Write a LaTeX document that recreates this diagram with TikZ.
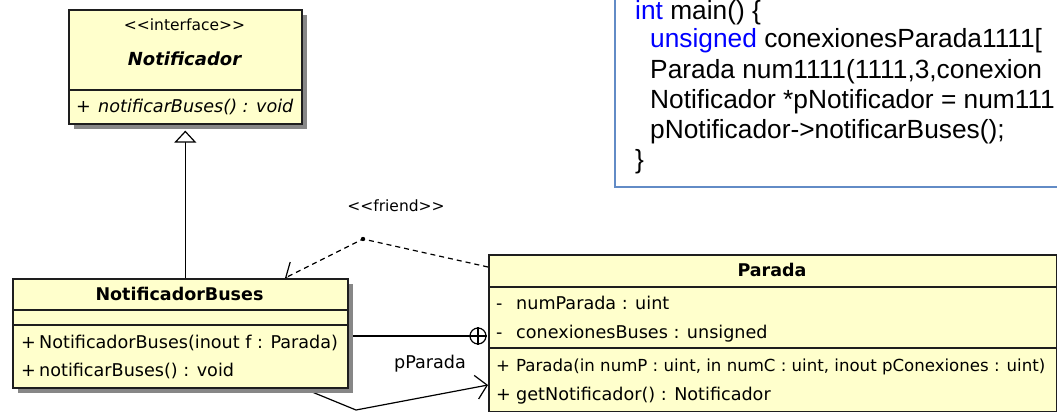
\documentclass[tikz,border=0pt]{standalone}
\usepackage{fontspec}
\setmainfont{DejaVu Sans}
\newfontfamily\codefont{Liberation Sans}
\usetikzlibrary{arrows.meta,shadows,backgrounds}
\definecolor{umlfill}{RGB}{255,255,204}
\definecolor{umlborder}{RGB}{30,30,30}
\definecolor{shadowgray}{RGB}{135,135,135}
\definecolor{codeborder}{RGB}{98,139,198}
\definecolor{kwblue}{RGB}{0,0,255}
\begin{document}
\begin{tikzpicture}[x=1pt,y=-1pt,
  umlbox/.style={draw=umlborder, fill=umlfill, line width=1.6pt, inner sep=0pt, anchor=north west,
    drop shadow={shadow xshift=5pt, shadow yshift=-5pt, fill=shadowgray, opacity=1}},
  umlsep/.style={draw=umlborder, line width=1.4pt},
  member/.style={anchor=base west, inner sep=0pt, font=\fontsize{17.6}{20}\selectfont},
  umltitle/.style={anchor=base, inner sep=0pt, font=\fontsize{17.5}{20}\selectfont\bfseries},
  stereo/.style={anchor=base, inner sep=0pt, font=\fontsize{15.5}{18}\selectfont},
  codeline/.style={anchor=base west, inner sep=0pt, font=\codefont\fontsize{26.3}{30}\selectfont},
  conn/.style={draw=black, line width=1.2pt},
  dep/.style={conn, dash pattern=on 5pt off 4pt},
  barb/.style={-{Straight Barb[length=11pt,width=24pt,line width=1.2pt]}}
]
\useasboundingbox (0,0) rectangle (1057,412);

% code box
\node[draw=codeborder, line width=2pt, fill=white, inner sep=0pt, anchor=north west,
      minimum width=500pt, minimum height=216pt] (codebox) at (614,-30) {};
\node[codeline] (c1) at (635,20) {{\color{kwblue}int} main() \{};
\node[codeline] (c2) at (650,48) {{\color{kwblue}unsigned} conexionesParada1111[};
\node[codeline] (c3) at (650,78) {Parada num1111(1111,3,conexion};
\node[codeline] (c4) at (650,108) {Notificador *pNotificador = num111};
\node[codeline] (c5) at (650,138) {pNotificador->notificarBuses();};
\node[codeline] (c6) at (635,168) {\}};

% Notificador
\node[umlbox, minimum width=233pt, minimum height=114pt] (notif) at (68,9) {};
\draw[umlsep] (notif.west |- 0,90) -- (notif.east |- 0,90);
\node[stereo] (notifst) at (184.5,31) {<{}<interface>{}>};
\node[umltitle, font=\fontsize{18}{20}\selectfont\bfseries\itshape] (notifti) at (184.5,66) {Notificador};
\node[member] (notifm1) at (76,112) {\makebox[22pt][l]{+}\itshape notificarBuses() : void};

% NotificadorBuses
\node[umlbox, minimum width=335pt, minimum height=109pt] (nb) at (12,278) {};
\draw[umlsep] (nb.west |- 0,310) -- (nb.east |- 0,310);
\draw[umlsep] (nb.west |- 0,325) -- (nb.east |- 0,325);
\node[umltitle] (nbti) at (179.5,300) {NotificadorBuses};
\node[member] (nbm1) at (21,348) {\makebox[18pt][l]{+}NotificadorBuses(inout f : Parada)};
\node[member] (nbm2) at (21,376) {\makebox[18pt][l]{+}notificarBuses() : void};

% Parada
\node[umlbox, minimum width=568pt, minimum height=157pt] (parada) at (488,254) {};
\draw[umlsep] (parada.west |- 0,287) -- (parada.east |- 0,287);
\draw[umlsep] (parada.west |- 0,348) -- (parada.east |- 0,348);
\node[umltitle] (parti) at (772,276) {Parada};
\node[member] (parm1) at (496,309) {\makebox[20pt][l]{-}numParada : uint};
\node[member] (parm2) at (496,338) {\makebox[20pt][l]{-}conexionesBuses : unsigned};
\node[member, font=\fontsize{16.6}{20}\selectfont] (parm3) at (496,371) {\makebox[20pt][l]{+}Parada(in numP : uint, in numC : uint, inout pConexiones : uint)};
\node[member] (parm4) at (496,400) {\makebox[20pt][l]{+}getNotificador() : Notificador};

% labels
\node[stereo] (friendlbl) at (396,211) {<{}<friend>{}>};
\node[member, anchor=base] (ppar) at (430,368) {pParada};

% nesting circle
\node[circle, draw=black, line width=1.2pt, fill=white, minimum size=16pt, inner sep=0pt] (nest) at (478,336) {};
\draw[conn] (nest.north) -- (nest.south) (nest.west) -- (nest.east);

\coordinate (fbend) at (363,239);
\coordinate (abend) at (356,410);

\begin{scope}[on background layer]
  % generalization
  \draw[conn, -{Triangle[open, fill=white, length=12pt, width=22pt, line width=1.2pt]}]
    (nb.north -| notif.south) -- ([yshift=-6pt]notif.south);
  % friend dependency
  \draw[dep, barb] (parada.west |- 0,267) -- (fbend) -- (nb.north -| 285,0);
  % nesting
  \draw[conn] (nb.east |- 0,336) -- (nest.west);
  % navigable association
  \draw[conn, barb] ([xshift=123.5pt]nb.south) -- (abend) -- (parada.west |- 0,385);
\end{scope}
\fill (fbend) circle (2.2pt);
\end{tikzpicture}
\end{document}
